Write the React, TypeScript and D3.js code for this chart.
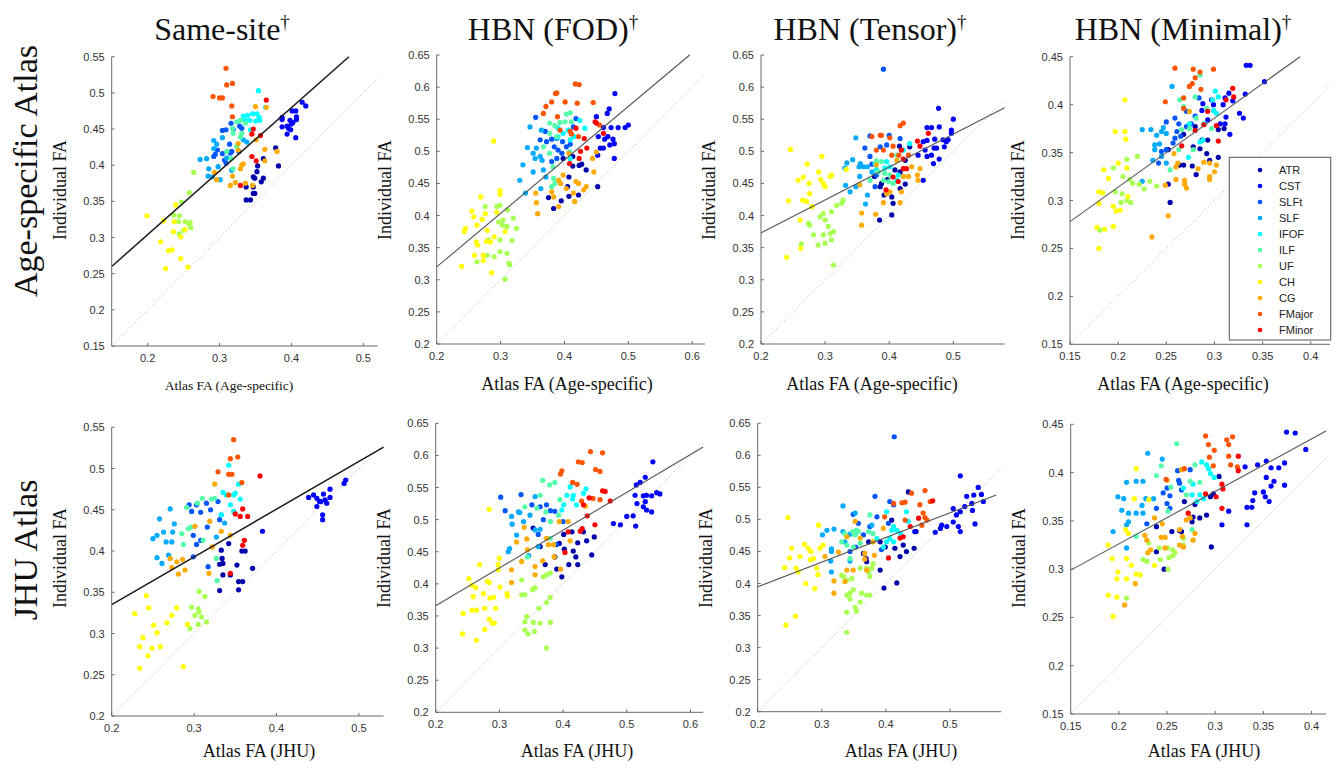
import React from 'react';
import * as d3 from 'd3';

type Pts = number[][];

const TRACTS = ['ATR', 'CST', 'SLFt', 'SLF', 'IFOF', 'ILF', 'UF', 'CH', 'CG', 'FMajor', 'FMinor'];
const TRACT_COLORS = ['#0000AA', '#0000FF', '#0055FF', '#00AAFF', '#00FFFF', '#55FFAA', '#AAFF55', '#FFFF00', '#FFAA00', '#FF5500', '#FF0000'];

const COLUMN_TITLES = ['Same-site', 'HBN (FOD)', 'HBN (Tensor)', 'HBN (Minimal)'];
const ROW_TITLES = ['Age-specific Atlas', 'JHU Atlas'];
const X_TITLES = ['Atlas FA (Age-specific)', 'Atlas FA (JHU)'];
const Y_TITLE = 'Individual FA';

// ---- data: Same-site, Age-specific atlas
const sameSiteAge: Record<string, Pts> = {
  ATR: [[0.378,0.424],[0.382,0.399],[0.361,0.409],[0.353,0.399],[0.352,0.391],[0.347,0.384],[0.349,0.382],[0.361,0.382],[0.358,0.377],[0.337,0.370],[0.347,0.370],[0.347,0.361],[0.349,0.361],[0.337,0.352],[0.343,0.352]],
  CST: [[0.415,0.487],[0.420,0.482],[0.401,0.475],[0.406,0.475],[0.387,0.466],[0.387,0.463],[0.398,0.462],[0.407,0.463],[0.402,0.459],[0.394,0.454],[0.387,0.453],[0.400,0.457],[0.396,0.451],[0.399,0.449],[0.394,0.443],[0.406,0.438],[0.407,0.467]],
  SLFt: [[0.304,0.448],[0.309,0.449],[0.316,0.458],[0.319,0.450],[0.328,0.454],[0.331,0.451],[0.314,0.429],[0.315,0.417],[0.317,0.419],[0.304,0.416],[0.307,0.407],[0.309,0.403],[0.327,0.419],[0.292,0.412],[0.294,0.415],[0.297,0.421]],
  SLF: [[0.292,0.434],[0.296,0.429],[0.304,0.438],[0.282,0.409],[0.273,0.408],[0.285,0.395],[0.284,0.385],[0.290,0.384],[0.301,0.380],[0.292,0.423],[0.298,0.398],[0.310,0.410],[0.317,0.393],[0.333,0.435],[0.338,0.432]],
  IFOF: [[0.354,0.503],[0.364,0.480],[0.333,0.468],[0.339,0.469],[0.346,0.471],[0.352,0.471],[0.355,0.466],[0.356,0.462],[0.336,0.462],[0.342,0.462],[0.350,0.461],[0.343,0.449]],
  ILF: [[0.324,0.460],[0.329,0.462],[0.336,0.458],[0.318,0.451],[0.319,0.444],[0.329,0.439],[0.331,0.444],[0.316,0.409],[0.319,0.395],[0.324,0.426],[0.310,0.419]],
  UF: [[0.264,0.390],[0.258,0.362],[0.247,0.349],[0.236,0.331],[0.244,0.330],[0.252,0.322],[0.257,0.319],[0.259,0.321],[0.260,0.314],[0.243,0.322],[0.250,0.310],[0.244,0.305]],
  CH: [[0.199,0.330],[0.222,0.323],[0.237,0.322],[0.239,0.345],[0.236,0.308],[0.246,0.301],[0.252,0.311],[0.218,0.294],[0.229,0.282],[0.234,0.283],[0.246,0.271],[0.225,0.257],[0.256,0.259]],
  CG: [[0.350,0.481],[0.365,0.480],[0.351,0.435],[0.363,0.422],[0.380,0.419],[0.363,0.406],[0.326,0.430],[0.326,0.421],[0.329,0.395],[0.333,0.402],[0.318,0.385],[0.315,0.372],[0.322,0.376],[0.336,0.375],[0.346,0.372],[0.293,0.390],[0.296,0.380],[0.331,0.400]],
  FMajor: [[0.309,0.534],[0.310,0.511],[0.318,0.513],[0.291,0.495],[0.300,0.493],[0.304,0.493],[0.317,0.482],[0.318,0.467]],
  FMinor: [[0.365,0.490],[0.347,0.450],[0.345,0.443],[0.357,0.441],[0.345,0.412],[0.351,0.406],[0.329,0.372]],
};

// ---- data: HBN (FOD), Age-specific atlas
const fodAge: Record<string, Pts> = {
  ATR: [[0.452,0.445],[0.434,0.471],[0.427,0.480],[0.423,0.478],[0.413,0.477],[0.413,0.492],[0.407,0.460],[0.405,0.445],[0.422,0.432],[0.407,0.430],[0.395,0.423],[0.383,0.411],[0.375,0.428],[0.398,0.489]],
  CST: [[0.479,0.590],[0.470,0.566],[0.467,0.559],[0.450,0.554],[0.461,0.537],[0.473,0.537],[0.484,0.537],[0.495,0.537],[0.500,0.541],[0.453,0.523],[0.463,0.519],[0.468,0.523],[0.476,0.519],[0.478,0.512],[0.456,0.505],[0.471,0.510],[0.461,0.505],[0.478,0.489],[0.452,0.494]],
  SLFt: [[0.355,0.553],[0.362,0.518],[0.372,0.515],[0.380,0.519],[0.384,0.507],[0.397,0.515],[0.390,0.502],[0.403,0.507],[0.396,0.497],[0.388,0.489],[0.380,0.484],[0.409,0.511],[0.414,0.538],[0.418,0.551],[0.370,0.531]],
  SLF: [[0.346,0.538],[0.342,0.506],[0.351,0.497],[0.335,0.479],[0.339,0.435],[0.330,0.455],[0.362,0.492],[0.354,0.489],[0.356,0.505],[0.364,0.533],[0.388,0.520],[0.365,0.486],[0.367,0.471],[0.351,0.468],[0.363,0.442],[0.371,0.460]],
  IFOF: [[0.390,0.523],[0.398,0.528],[0.406,0.533],[0.415,0.523],[0.424,0.548],[0.432,0.536],[0.409,0.518],[0.409,0.489],[0.408,0.499],[0.390,0.536]],
  ILF: [[0.409,0.560],[0.403,0.558],[0.377,0.544],[0.385,0.540],[0.393,0.545],[0.401,0.546],[0.411,0.546],[0.377,0.528],[0.388,0.523],[0.377,0.497],[0.382,0.476],[0.383,0.458],[0.385,0.450],[0.380,0.445],[0.367,0.507]],
  UF: [[0.276,0.414],[0.299,0.416],[0.294,0.414],[0.304,0.393],[0.311,0.409],[0.320,0.396],[0.325,0.380],[0.297,0.390],[0.303,0.385],[0.310,0.383],[0.299,0.362],[0.318,0.361],[0.281,0.362],[0.299,0.344],[0.279,0.338],[0.290,0.336],[0.310,0.341],[0.263,0.328],[0.314,0.323],[0.313,0.326],[0.307,0.301]],
  CH: [[0.289,0.516],[0.269,0.429],[0.299,0.439],[0.299,0.433],[0.255,0.407],[0.258,0.398],[0.245,0.380],[0.243,0.375],[0.263,0.385],[0.276,0.403],[0.271,0.394],[0.279,0.377],[0.290,0.367],[0.262,0.359],[0.264,0.354],[0.278,0.360],[0.284,0.359],[0.259,0.338],[0.273,0.338],[0.273,0.330],[0.239,0.321],[0.286,0.311],[0.307,0.375],[0.294,0.405]],
  CG: [[0.407,0.497],[0.444,0.489],[0.450,0.499],[0.446,0.468],[0.430,0.440],[0.434,0.445],[0.418,0.453],[0.422,0.450],[0.414,0.435],[0.416,0.422],[0.403,0.442],[0.398,0.463],[0.391,0.455],[0.394,0.450],[0.380,0.437],[0.383,0.429],[0.391,0.414],[0.358,0.403],[0.356,0.420],[0.355,0.435]],
  FMajor: [[0.386,0.590],[0.388,0.591],[0.380,0.577],[0.401,0.577],[0.371,0.570],[0.367,0.559],[0.417,0.605],[0.423,0.604],[0.420,0.575],[0.445,0.576],[0.389,0.554],[0.393,0.533],[0.409,0.531],[0.411,0.527],[0.422,0.523],[0.455,0.541]],
  FMinor: [[0.448,0.546],[0.450,0.544],[0.461,0.528],[0.431,0.520],[0.435,0.505],[0.425,0.500],[0.423,0.489],[0.408,0.481],[0.418,0.536]],
};

// ---- data: HBN (Tensor), Age-specific atlas
const tensorAge: Record<string, Pts> = {
  ATR: [[0.432,0.507],[0.416,0.508],[0.425,0.486],[0.417,0.468],[0.409,0.471],[0.425,0.449],[0.417,0.442],[0.404,0.429],[0.406,0.419],[0.404,0.401],[0.385,0.393],[0.386,0.445],[0.388,0.450],[0.392,0.432],[0.397,0.456],[0.377,0.461]],
  CST: [[0.477,0.567],[0.500,0.550],[0.497,0.533],[0.497,0.528],[0.478,0.538],[0.466,0.537],[0.459,0.537],[0.471,0.519],[0.484,0.518],[0.492,0.518],[0.489,0.515],[0.486,0.507],[0.474,0.505],[0.470,0.505],[0.453,0.515],[0.459,0.517],[0.456,0.502],[0.466,0.494],[0.469,0.481],[0.478,0.488],[0.459,0.492],[0.453,0.455],[0.445,0.494]],
  SLFt: [[0.391,0.628],[0.370,0.524],[0.400,0.525],[0.396,0.510],[0.362,0.505],[0.370,0.492],[0.373,0.480],[0.380,0.463],[0.378,0.445],[0.417,0.520],[0.386,0.507]],
  SLF: [[0.348,0.521],[0.343,0.487],[0.331,0.474],[0.332,0.447],[0.339,0.437],[0.355,0.481],[0.360,0.476],[0.354,0.461],[0.348,0.445],[0.363,0.418],[0.366,0.432],[0.373,0.468],[0.366,0.476],[0.353,0.476],[0.334,0.482]],
  IFOF: [[0.432,0.512],[0.396,0.484],[0.401,0.476],[0.393,0.474],[0.412,0.455],[0.380,0.472],[0.422,0.502],[0.414,0.463],[0.378,0.481]],
  ILF: [[0.380,0.485],[0.388,0.484],[0.383,0.468],[0.393,0.466],[0.401,0.463],[0.391,0.455],[0.399,0.453],[0.406,0.450],[0.370,0.455],[0.412,0.494]],
  UF: [[0.328,0.424],[0.326,0.419],[0.318,0.416],[0.310,0.406],[0.300,0.393],[0.274,0.388],[0.276,0.385],[0.292,0.398],[0.297,0.403],[0.305,0.383],[0.308,0.372],[0.313,0.375],[0.300,0.357],[0.289,0.354],[0.310,0.362],[0.297,0.370],[0.282,0.370],[0.263,0.356],[0.313,0.323],[0.279,0.414]],
  CH: [[0.246,0.503],[0.295,0.492],[0.272,0.480],[0.290,0.468],[0.293,0.456],[0.300,0.445],[0.297,0.450],[0.308,0.461],[0.310,0.463],[0.258,0.455],[0.266,0.460],[0.275,0.450],[0.276,0.434],[0.265,0.424],[0.243,0.423],[0.271,0.422],[0.261,0.393],[0.262,0.349],[0.240,0.335],[0.280,0.414],[0.333,0.472]],
  CG: [[0.448,0.473],[0.444,0.463],[0.445,0.455],[0.435,0.476],[0.430,0.461],[0.422,0.461],[0.419,0.437],[0.417,0.420],[0.391,0.420],[0.357,0.404],[0.357,0.385],[0.379,0.402],[0.396,0.434],[0.401,0.437],[0.354,0.448],[0.380,0.479],[0.412,0.486]],
  FMajor: [[0.417,0.540],[0.422,0.544],[0.386,0.525],[0.388,0.525],[0.373,0.523],[0.401,0.521],[0.391,0.502],[0.406,0.508],[0.404,0.494],[0.380,0.502],[0.415,0.494],[0.430,0.494]],
  FMinor: [[0.444,0.516],[0.448,0.508],[0.461,0.528],[0.419,0.502],[0.422,0.488],[0.427,0.473],[0.422,0.473],[0.395,0.440],[0.406,0.460],[0.414,0.453]],
};

// ---- data: HBN (Minimal), Age-specific atlas
const minimalAge: Record<string, Pts> = {
  ATR: [[0.304,0.374],[0.310,0.375],[0.293,0.363],[0.287,0.363],[0.285,0.354],[0.278,0.356],[0.292,0.349],[0.304,0.345],[0.295,0.342],[0.277,0.336],[0.281,0.327],[0.268,0.337],[0.264,0.337],[0.254,0.298],[0.252,0.317],[0.252,0.353],[0.268,0.369],[0.280,0.377]],
  CST: [[0.333,0.441],[0.337,0.441],[0.352,0.424],[0.332,0.411],[0.315,0.412],[0.319,0.404],[0.311,0.407],[0.309,0.400],[0.299,0.400],[0.297,0.405],[0.288,0.401],[0.326,0.391],[0.330,0.386],[0.312,0.387],[0.311,0.380],[0.306,0.380],[0.316,0.369],[0.293,0.384],[0.287,0.394]],
  SLFt: [[0.250,0.382],[0.259,0.386],[0.263,0.380],[0.261,0.372],[0.265,0.367],[0.271,0.377],[0.276,0.380],[0.280,0.388],[0.259,0.365],[0.257,0.360],[0.250,0.353],[0.242,0.339],[0.245,0.351],[0.271,0.393],[0.284,0.407]],
  SLF: [[0.256,0.419],[0.234,0.374],[0.225,0.374],[0.240,0.368],[0.238,0.358],[0.238,0.353],[0.243,0.359],[0.236,0.342],[0.250,0.370],[0.245,0.372],[0.247,0.376],[0.225,0.320],[0.245,0.346],[0.250,0.339]],
  IFOF: [[0.274,0.380],[0.289,0.380],[0.298,0.405],[0.301,0.414],[0.304,0.408],[0.299,0.394],[0.288,0.363],[0.285,0.361],[0.273,0.345],[0.302,0.391]],
  ILF: [[0.285,0.431],[0.280,0.408],[0.264,0.405],[0.268,0.398],[0.266,0.374],[0.274,0.375],[0.281,0.386],[0.263,0.353],[0.254,0.332],[0.292,0.396],[0.297,0.375],[0.278,0.353]],
  UF: [[0.209,0.343],[0.220,0.346],[0.195,0.334],[0.205,0.325],[0.212,0.322],[0.215,0.318],[0.222,0.317],[0.227,0.312],[0.233,0.320],[0.240,0.315],[0.197,0.309],[0.204,0.307],[0.209,0.300],[0.213,0.298],[0.203,0.298],[0.181,0.269]],
  CH: [[0.207,0.405],[0.197,0.372],[0.207,0.372],[0.208,0.364],[0.200,0.339],[0.209,0.334],[0.185,0.332],[0.190,0.323],[0.180,0.309],[0.184,0.308],[0.195,0.294],[0.198,0.289],[0.202,0.290],[0.195,0.273],[0.178,0.272],[0.186,0.270],[0.180,0.250],[0.180,0.297],[0.210,0.304]],
  CG: [[0.249,0.316],[0.252,0.284],[0.235,0.262],[0.260,0.335],[0.262,0.339],[0.260,0.322],[0.269,0.321],[0.269,0.317],[0.271,0.313],[0.283,0.333],[0.295,0.339],[0.302,0.337],[0.295,0.325],[0.295,0.322],[0.300,0.330],[0.289,0.340],[0.274,0.393],[0.258,0.349]],
  FMajor: [[0.259,0.438],[0.278,0.437],[0.285,0.434],[0.299,0.437],[0.280,0.428],[0.277,0.422],[0.274,0.419],[0.286,0.416],[0.249,0.403],[0.268,0.407],[0.268,0.396]],
  FMinor: [[0.319,0.417],[0.320,0.408],[0.312,0.405],[0.302,0.378],[0.289,0.379],[0.304,0.362],[0.266,0.357],[0.293,0.393],[0.280,0.373]],
};

// ---- data: Same-site, JHU atlas
const sameSiteJhu: Record<string, Pts> = {
  ATR: [[0.333,0.401],[0.342,0.409],[0.334,0.391],[0.335,0.385],[0.331,0.384],[0.335,0.371],[0.344,0.371],[0.331,0.352],[0.352,0.383],[0.358,0.400],[0.362,0.400],[0.354,0.363],[0.359,0.363],[0.354,0.353],[0.371,0.379]],
  CST: [[0.449,0.464],[0.457,0.469],[0.454,0.460],[0.459,0.462],[0.449,0.454],[0.445,0.468],[0.465,0.475],[0.465,0.465],[0.456,0.444],[0.456,0.438],[0.482,0.482],[0.484,0.486],[0.439,0.465],[0.461,0.458],[0.452,0.460],[0.383,0.424]],
  SLFt: [[0.294,0.456],[0.303,0.456],[0.315,0.458],[0.297,0.448],[0.308,0.447],[0.320,0.450],[0.329,0.460],[0.316,0.429],[0.299,0.419],[0.308,0.413],[0.303,0.408],[0.299,0.393],[0.317,0.381],[0.331,0.438]],
  SLF: [[0.271,0.451],[0.258,0.439],[0.250,0.415],[0.255,0.419],[0.263,0.423],[0.266,0.411],[0.274,0.423],[0.276,0.433],[0.273,0.411],[0.269,0.395],[0.255,0.392],[0.261,0.385],[0.333,0.444],[0.337,0.434],[0.327,0.417]],
  IFOF: [[0.342,0.504],[0.354,0.481],[0.335,0.471],[0.339,0.468],[0.348,0.468],[0.344,0.456],[0.350,0.470],[0.356,0.463],[0.333,0.444],[0.348,0.448]],
  ILF: [[0.291,0.453],[0.304,0.458],[0.310,0.464],[0.321,0.463],[0.325,0.464],[0.285,0.421],[0.296,0.429],[0.293,0.427],[0.287,0.408],[0.311,0.413],[0.327,0.391],[0.328,0.364]],
  UF: [[0.306,0.351],[0.313,0.345],[0.297,0.332],[0.305,0.330],[0.306,0.326],[0.309,0.320],[0.301,0.322],[0.305,0.311],[0.315,0.314],[0.295,0.306]],
  CH: [[0.242,0.346],[0.228,0.324],[0.245,0.331],[0.279,0.331],[0.273,0.322],[0.267,0.313],[0.251,0.310],[0.255,0.301],[0.238,0.295],[0.234,0.284],[0.249,0.282],[0.259,0.284],[0.244,0.273],[0.234,0.258],[0.287,0.260],[0.292,0.311]],
  CG: [[0.325,0.481],[0.279,0.387],[0.281,0.372],[0.286,0.390],[0.289,0.377],[0.273,0.380],[0.271,0.391],[0.301,0.430],[0.319,0.436],[0.322,0.405],[0.318,0.373],[0.333,0.424],[0.344,0.419]],
  FMajor: [[0.329,0.496],[0.344,0.512],[0.353,0.514],[0.348,0.535],[0.342,0.493],[0.346,0.493],[0.358,0.483],[0.342,0.468]],
  FMinor: [[0.380,0.491],[0.359,0.451],[0.350,0.445],[0.356,0.442],[0.365,0.442],[0.361,0.413],[0.359,0.407],[0.344,0.373]],
};

// ---- data: HBN (FOD), JHU atlas
const fodJhu: Record<string, Pts> = {
  ATR: [[0.445,0.445],[0.449,0.473],[0.437,0.467],[0.423,0.464],[0.432,0.481],[0.414,0.481],[0.416,0.451],[0.420,0.442],[0.423,0.430],[0.409,0.430],[0.398,0.411],[0.390,0.423],[0.387,0.442],[0.394,0.463],[0.402,0.454],[0.372,0.430],[0.353,0.487],[0.364,0.458],[0.401,0.477]],
  CST: [[0.541,0.590],[0.529,0.566],[0.521,0.558],[0.515,0.554],[0.531,0.538],[0.526,0.537],[0.539,0.537],[0.547,0.542],[0.552,0.540],[0.513,0.538],[0.516,0.525],[0.529,0.528],[0.526,0.520],[0.531,0.515],[0.539,0.512],[0.510,0.506],[0.500,0.505],[0.490,0.492],[0.479,0.494],[0.514,0.490]],
  SLFt: [[0.302,0.535],[0.334,0.539],[0.309,0.514],[0.351,0.523],[0.364,0.520],[0.374,0.523],[0.380,0.514],[0.387,0.513],[0.369,0.500],[0.361,0.477],[0.390,0.461],[0.400,0.497]],
  SLF: [[0.314,0.450],[0.316,0.455],[0.320,0.493],[0.319,0.505],[0.327,0.476],[0.338,0.497],[0.332,0.511],[0.348,0.507],[0.356,0.484],[0.364,0.485],[0.346,0.444],[0.361,0.458],[0.356,0.536],[0.330,0.512]],
  IFOF: [[0.406,0.538],[0.411,0.551],[0.416,0.538],[0.421,0.523],[0.401,0.523],[0.415,0.532],[0.432,0.541],[0.436,0.548],[0.398,0.515]],
  ILF: [[0.368,0.561],[0.379,0.554],[0.387,0.558],[0.364,0.538],[0.340,0.520],[0.359,0.518],[0.373,0.512],[0.380,0.497],[0.393,0.507],[0.395,0.531],[0.344,0.442],[0.380,0.471]],
  UF: [[0.374,0.414],[0.380,0.417],[0.369,0.411],[0.356,0.394],[0.352,0.391],[0.335,0.383],[0.340,0.383],[0.380,0.379],[0.374,0.371],[0.362,0.362],[0.343,0.349],[0.340,0.341],[0.353,0.340],[0.364,0.339],[0.380,0.340],[0.340,0.328],[0.355,0.326],[0.345,0.322],[0.335,0.406],[0.374,0.300]],
  CH: [[0.284,0.516],[0.252,0.408],[0.269,0.430],[0.300,0.440],[0.298,0.430],[0.298,0.422],[0.281,0.404],[0.284,0.402],[0.257,0.398],[0.263,0.394],[0.275,0.385],[0.285,0.378],[0.291,0.379],[0.312,0.385],[0.313,0.381],[0.301,0.395],[0.259,0.380],[0.257,0.359],[0.264,0.359],[0.277,0.362],[0.294,0.362],[0.284,0.345],[0.289,0.339],[0.292,0.339],[0.277,0.329],[0.242,0.322],[0.264,0.312],[0.243,0.354]],
  CG: [[0.435,0.521],[0.408,0.497],[0.411,0.467],[0.396,0.423],[0.386,0.442],[0.385,0.461],[0.377,0.461],[0.374,0.471],[0.368,0.436],[0.356,0.427],[0.356,0.414],[0.339,0.488],[0.343,0.470],[0.344,0.453],[0.327,0.465],[0.335,0.435],[0.319,0.422],[0.319,0.402],[0.394,0.497]],
  FMajor: [[0.443,0.606],[0.462,0.604],[0.398,0.576],[0.396,0.571],[0.424,0.590],[0.430,0.589],[0.451,0.578],[0.458,0.575],[0.415,0.558],[0.422,0.555],[0.429,0.529],[0.447,0.533],[0.458,0.531]],
  FMinor: [[0.474,0.529],[0.462,0.545],[0.466,0.544],[0.441,0.534],[0.432,0.523],[0.438,0.506],[0.450,0.492],[0.430,0.486],[0.427,0.482],[0.408,0.481],[0.403,0.449]],
};

// ---- data: HBN (Tensor), JHU atlas
const tensorJhu: Record<string, Pts> = {
  ATR: [[0.435,0.543],[0.447,0.481],[0.427,0.460],[0.414,0.455],[0.422,0.442],[0.432,0.450],[0.444,0.455],[0.409,0.499],[0.391,0.465],[0.391,0.421],[0.397,0.393],[0.417,0.401],[0.365,0.447],[0.369,0.439],[0.370,0.434],[0.373,0.465],[0.399,0.457]],
  CST: [[0.516,0.568],[0.544,0.550],[0.526,0.536],[0.537,0.538],[0.534,0.525],[0.549,0.539],[0.552,0.528],[0.505,0.517],[0.516,0.512],[0.523,0.520],[0.535,0.514],[0.510,0.507],[0.505,0.496],[0.513,0.489],[0.516,0.481],[0.539,0.493],[0.495,0.489],[0.487,0.491],[0.485,0.486],[0.477,0.480],[0.445,0.481]],
  SLFt: [[0.413,0.629],[0.383,0.536],[0.406,0.528],[0.386,0.504],[0.357,0.494],[0.404,0.494],[0.412,0.523],[0.375,0.489],[0.365,0.476],[0.353,0.457],[0.344,0.450],[0.393,0.453],[0.349,0.508]],
  SLF: [[0.333,0.521],[0.319,0.485],[0.308,0.483],[0.301,0.476],[0.333,0.481],[0.344,0.477],[0.336,0.465],[0.315,0.454],[0.315,0.450],[0.314,0.435],[0.315,0.418],[0.344,0.435],[0.352,0.510],[0.378,0.491]],
  IFOF: [[0.401,0.512],[0.412,0.489],[0.409,0.483],[0.417,0.483],[0.423,0.478],[0.406,0.470],[0.401,0.465],[0.412,0.465],[0.396,0.457],[0.432,0.512],[0.435,0.497],[0.386,0.470]],
  ILF: [[0.375,0.507],[0.354,0.483],[0.348,0.481],[0.352,0.476],[0.357,0.481],[0.373,0.481],[0.336,0.478],[0.331,0.465],[0.339,0.460],[0.349,0.457],[0.360,0.463],[0.380,0.478],[0.344,0.439]],
  UF: [[0.331,0.413],[0.334,0.411],[0.347,0.408],[0.339,0.405],[0.360,0.424],[0.370,0.424],[0.378,0.424],[0.380,0.431],[0.373,0.418],[0.375,0.411],[0.349,0.390],[0.339,0.382],[0.344,0.385],[0.362,0.385],[0.370,0.382],[0.375,0.382],[0.360,0.371],[0.344,0.376],[0.339,0.355],[0.352,0.363],[0.354,0.357],[0.339,0.324]],
  CH: [[0.247,0.503],[0.295,0.491],[0.253,0.455],[0.250,0.440],[0.266,0.442],[0.273,0.461],[0.279,0.455],[0.283,0.450],[0.287,0.439],[0.282,0.437],[0.242,0.425],[0.260,0.424],[0.263,0.418],[0.292,0.424],[0.294,0.414],[0.297,0.455],[0.302,0.460],[0.275,0.400],[0.289,0.392],[0.259,0.349],[0.244,0.335]],
  CG: [[0.352,0.497],[0.326,0.449],[0.339,0.473],[0.360,0.471],[0.380,0.465],[0.382,0.444],[0.396,0.486],[0.367,0.447],[0.367,0.438],[0.349,0.421],[0.339,0.421],[0.319,0.404],[0.319,0.385],[0.336,0.403],[0.370,0.421],[0.305,0.442]],
  FMajor: [[0.440,0.541],[0.461,0.545],[0.425,0.526],[0.430,0.527],[0.412,0.525],[0.398,0.504],[0.453,0.523],[0.458,0.510],[0.461,0.503],[0.464,0.499],[0.430,0.499],[0.456,0.491],[0.469,0.528]],
  FMinor: [[0.473,0.529],[0.451,0.502],[0.438,0.489],[0.427,0.473],[0.422,0.471],[0.404,0.440]],
};

// ---- data: HBN (Minimal), JHU atlas
const minimalJhu: Record<string, Pts> = {
  ATR: [[0.304,0.396],[0.295,0.375],[0.298,0.378],[0.291,0.356],[0.284,0.353],[0.279,0.367],[0.277,0.354],[0.276,0.349],[0.265,0.339],[0.263,0.340],[0.268,0.370],[0.255,0.339],[0.239,0.344],[0.239,0.318],[0.247,0.300],[0.296,0.323]],
  CST: [[0.374,0.442],[0.383,0.441],[0.394,0.424],[0.372,0.410],[0.366,0.405],[0.358,0.405],[0.353,0.412],[0.344,0.408],[0.331,0.406],[0.361,0.391],[0.353,0.395],[0.358,0.386],[0.372,0.387],[0.341,0.379],[0.350,0.380],[0.352,0.375],[0.356,0.370],[0.339,0.371],[0.338,0.364],[0.333,0.364],[0.333,0.346],[0.307,0.346],[0.314,0.360]],
  SLFt: [[0.261,0.402],[0.274,0.403],[0.262,0.392],[0.265,0.382],[0.263,0.389],[0.250,0.384],[0.253,0.376],[0.250,0.368],[0.239,0.363],[0.229,0.347],[0.253,0.363],[0.246,0.379]],
  SLF: [[0.230,0.420],[0.245,0.414],[0.208,0.390],[0.218,0.391],[0.225,0.391],[0.194,0.339],[0.199,0.375],[0.205,0.373],[0.203,0.361],[0.210,0.358],[0.218,0.358],[0.225,0.358],[0.228,0.373],[0.236,0.373],[0.224,0.366],[0.208,0.346],[0.210,0.349],[0.208,0.322]],
  IFOF: [[0.286,0.411],[0.291,0.408],[0.293,0.404],[0.295,0.399],[0.299,0.395],[0.277,0.388],[0.284,0.377],[0.288,0.373],[0.281,0.370],[0.276,0.377],[0.267,0.384]],
  ILF: [[0.260,0.430],[0.244,0.407],[0.239,0.397],[0.279,0.408],[0.274,0.391],[0.254,0.385],[0.270,0.377],[0.251,0.360],[0.284,0.390],[0.276,0.341],[0.218,0.334]],
  UF: [[0.231,0.327],[0.242,0.322],[0.251,0.322],[0.256,0.320],[0.258,0.317],[0.252,0.312],[0.256,0.314],[0.243,0.310],[0.225,0.310],[0.229,0.308],[0.251,0.300],[0.267,0.325],[0.267,0.332],[0.208,0.270]],
  CH: [[0.218,0.404],[0.216,0.373],[0.207,0.341],[0.210,0.337],[0.189,0.325],[0.193,0.311],[0.208,0.311],[0.213,0.304],[0.208,0.290],[0.198,0.290],[0.218,0.295],[0.222,0.294],[0.199,0.297],[0.189,0.273],[0.198,0.271],[0.194,0.251],[0.237,0.304],[0.231,0.372]],
  CG: [[0.250,0.392],[0.265,0.403],[0.237,0.353],[0.227,0.335],[0.229,0.330],[0.233,0.320],[0.230,0.317],[0.244,0.333],[0.248,0.333],[0.245,0.347],[0.248,0.322],[0.263,0.341],[0.266,0.334],[0.263,0.325],[0.267,0.323],[0.277,0.330],[0.279,0.337],[0.270,0.351],[0.274,0.353],[0.217,0.285],[0.206,0.263]],
  FMajor: [[0.290,0.438],[0.293,0.429],[0.299,0.423],[0.294,0.416],[0.298,0.407],[0.312,0.434],[0.318,0.437],[0.314,0.429],[0.314,0.417],[0.316,0.408],[0.323,0.406],[0.268,0.404],[0.249,0.393]],
  FMinor: [[0.324,0.417],[0.324,0.402],[0.307,0.388],[0.308,0.383],[0.301,0.375],[0.290,0.378],[0.272,0.358],[0.307,0.363]],
};

const PANEL_DATA = [sameSiteAge, fodAge, tensorAge, minimalAge, sameSiteJhu, fodJhu, tensorJhu, minimalJhu];

// axis domains [xmin, xmax, ymin, ymax]
const DOMAINS = [
  [0.15, 0.52, 0.15, 0.55], [0.2, 0.62, 0.2, 0.65], [0.2, 0.58, 0.2, 0.65], [0.15, 0.42, 0.15, 0.45],
  [0.2, 0.53, 0.2, 0.55], [0.2, 0.62, 0.2, 0.65], [0.2, 0.58, 0.2, 0.65], [0.15, 0.415, 0.15, 0.45],
];
// regression line endpoints [x0, y0, x1, y1]
const FIT_LINES = [
  [0.15, 0.26, 0.48, 0.55], [0.2, 0.32, 0.596, 0.65], [0.2, 0.373, 0.58, 0.568], [0.15, 0.278, 0.389, 0.45],
  [0.2, 0.335, 0.53, 0.526], [0.2, 0.366, 0.62, 0.613], [0.2, 0.395, 0.572, 0.538], [0.15, 0.299, 0.415, 0.443],
];
const X_TICKS = [
  [0.2, 0.3, 0.4, 0.5], [0.2, 0.3, 0.4, 0.5, 0.6], [0.2, 0.3, 0.4, 0.5], [0.15, 0.2, 0.25, 0.3, 0.35, 0.4],
  [0.2, 0.3, 0.4, 0.5], [0.2, 0.3, 0.4, 0.5, 0.6], [0.2, 0.3, 0.4, 0.5], [0.15, 0.2, 0.25, 0.3, 0.35, 0.4],
];
const Y_TICKS_A = [0.15, 0.2, 0.25, 0.3, 0.35, 0.4, 0.45, 0.5, 0.55];
const Y_TICKS_B = [0.2, 0.25, 0.3, 0.35, 0.4, 0.45, 0.5, 0.55, 0.6, 0.65];
const Y_TICKS_C = [0.15, 0.2, 0.25, 0.3, 0.35, 0.4, 0.45];
const Y_TICKS_D = [0.2, 0.25, 0.3, 0.35, 0.4, 0.45, 0.5, 0.55];
const Y_TICKS = [Y_TICKS_A, Y_TICKS_B, Y_TICKS_B, Y_TICKS_C, Y_TICKS_D, Y_TICKS_B, Y_TICKS_B, Y_TICKS_C];

// layout (pixels): [left, right, top, bottom]
const BOXES = [
  [111.7, 377.7, 56.7, 346], [436.7, 705, 55, 344], [761, 1004.6, 55, 344], [1070, 1330, 56.7, 344.3],
  [111.7, 383.6, 427.3, 716], [435.7, 703.2, 423.3, 712.3], [757.7, 1001.3, 423.3, 711.7], [1070.7, 1326, 424.3, 714],
];
const XLABEL_CX = [229, 567, 872, 1183, 259, 577, 901, 1204];
const XLABEL_SIZE = [13.5, 18, 18, 18, 18, 18, 18, 18];
const TITLE_CX = [222, 553, 870, 1183];

const SERIF = '"Liberation Serif", "Times New Roman", Times, serif';
const SANS = '"Liberation Sans", Arial, Helvetica, sans-serif';

function Panel({ idx }: { idx: number }) {
  const [l, r, t, b] = BOXES[idx];
  const [x0, x1, y0, y1] = DOMAINS[idx];
  const x = d3.scaleLinear().domain([x0, x1]).range([l, r]);
  const y = d3.scaleLinear().domain([y0, y1]).range([b, t]);
  const data = PANEL_DATA[idx];
  const fit = FIT_LINES[idx];
  const idLo = Math.max(x0, y0);
  const idHi = Math.min(x1, y1);
  const line = d3.line<number[]>().x((d) => x(d[0])).y((d) => y(d[1]));
  const bold = idx === 0 || idx === 4;
  const row = idx < 4 ? 0 : 1;
  return (
    <g>
      <path d={line([[idLo, idLo], [idHi, idHi]]) || ''} stroke="#b8b8b8" strokeWidth={1} strokeDasharray="1.2,2.4" fill="none" />
      {TRACTS.map((tr, ti) => (
        <g key={tr}>
          {(data[tr] || []).map((p, i) => (
            <circle key={i} cx={x(p[0])} cy={y(p[1])} r={2.6} fill={TRACT_COLORS[ti]} />
          ))}
        </g>
      ))}
      <path d={line([[fit[0], fit[1]], [fit[2], fit[3]]]) || ''} stroke={bold ? '#1a1a1a' : '#555'} strokeWidth={bold ? 1.5 : 1.1} fill="none" />
      <line x1={l} x2={l} y1={t} y2={b} stroke="#6a6a6a" strokeWidth={1} />
      <line x1={l} x2={r} y1={b} y2={b} stroke="#6a6a6a" strokeWidth={1} />
      {X_TICKS[idx].map((v) => (
        <g key={'x' + v}>
          <line x1={x(v)} x2={x(v)} y1={b} y2={b - 3} stroke="#6a6a6a" />
          <text x={x(v)} y={b + 16} textAnchor="middle" fontFamily={SANS} fontSize={11} fill="#333">{String(v)}</text>
        </g>
      ))}
      {Y_TICKS[idx].map((v) => (
        <g key={'y' + v}>
          <line x1={l} x2={l + 3} y1={y(v)} y2={y(v)} stroke="#6a6a6a" />
          <text x={l - 7} y={y(v) + 4} textAnchor="end" fontFamily={SANS} fontSize={11} fill="#333">{String(v)}</text>
        </g>
      ))}
      <text x={XLABEL_CX[idx]} y={row === 0 ? 390 : 757} textAnchor="middle" fontFamily={SERIF} fontSize={XLABEL_SIZE[idx]} fill="#111">{X_TITLES[row]}</text>
      <text transform={`translate(${l - 46},${row === 0 ? 190 : 558}) rotate(-90)`} textAnchor="middle" fontFamily={SERIF} fontSize={18} fill="#111">{Y_TITLE}</text>
    </g>
  );
}

function Legend() {
  const lx = 1229.3, ly = 157.3, lw = 101.4, lh = 182.7;
  return (
    <g>
      <rect x={lx} y={ly} width={lw} height={lh} fill="#fff" stroke="#555" strokeWidth={1} />
      {TRACTS.map((tr, i) => (
        <g key={tr}>
          <circle cx={1260} cy={170 + i * 16} r={2.3} fill={TRACT_COLORS[i]} />
          <text x={1279} y={170 + i * 16 + 4} fontFamily={SANS} fontSize={11} fill="#222">{tr}</text>
        </g>
      ))}
    </g>
  );
}

export default function App() {
  return (
    <svg width={1342} height={768} style={{ position: 'absolute', left: 0, top: 0, background: '#fff' }}>
      <rect width={1342} height={768} fill="#fff" />
      {COLUMN_TITLES.map((tt, i) => (
        <text key={tt} x={TITLE_CX[i]} y={40} textAnchor="middle" fontFamily={SERIF} fontSize={32} fill="#111">
          {tt}
          <tspan fontSize={19} dy={-12}>†</tspan>
        </text>
      ))}
      <text transform="translate(37,171) rotate(-90)" textAnchor="middle" fontFamily={SERIF} fontSize={34} fill="#111">{ROW_TITLES[0]}</text>
      <text transform="translate(37,550) rotate(-90)" textAnchor="middle" fontFamily={SERIF} fontSize={34} fill="#111">{ROW_TITLES[1]}</text>
      {PANEL_DATA.map((_, i) => <Panel key={i} idx={i} />)}
      <Legend />
    </svg>
  );
}
